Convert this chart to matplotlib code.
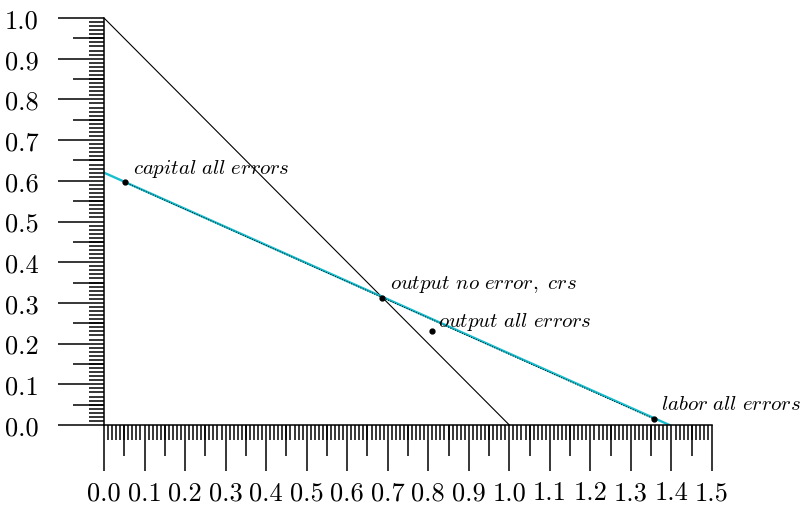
import numpy as np
import matplotlib
matplotlib.use("Agg")
import matplotlib.pyplot as plt
from matplotlib.ticker import MultipleLocator, FixedLocator

plt.rcParams['font.family'] = 'serif'
plt.rcParams['font.serif'] = ['cmr10']
plt.rcParams['mathtext.fontset'] = 'cm'
plt.rcParams['axes.formatter.use_mathtext'] = True

# data
frontier_x = [0.0, 1.0]
frontier_y = [1.0, 0.0]
isocost_x = [0.0, 1.395]
isocost_y = [0.62, 0.0]
point_names = ["capital all errors", "output no error, crs", "output all errors", "labor all errors"]
point_x = [0.052, 0.686, 0.808, 1.356]
point_y = [0.596, 0.313, 0.232, 0.015]
x_ticks = [round(0.1 * i, 1) for i in range(16)]
y_ticks = [round(0.1 * i, 1) for i in range(11)]

fig = plt.figure(figsize=(8.06, 5.06), dpi=100)
ax = fig.add_axes([104/806, (506-426)/506, (712-104)/806, (426-19)/506])

ax.plot(frontier_x, frontier_y, color='black', lw=0.8)
ax.plot(isocost_x, isocost_y, color='#17becf', lw=1.7)
# dotted line through capital and labor points
ax.plot([point_x[0], point_x[3]], [point_y[0], point_y[3]], color='black', lw=0.7, ls=(0, (1, 1.6)))
ax.plot(point_x, point_y, 'o', color='black', ms=3.5, zorder=5)

offsets = [(5.5, 10.5), (5.5, 10), (5, 7), (5, 10.5)]
for name, x, y, off in zip(point_names, point_x, point_y, offsets):
    label = r'$\mathit{' + name.replace(' ', r'\ ') + '}$'
    ax.annotate(label, (x, y), xytext=off, textcoords='offset points',
                ha='left', va='center', fontsize=15)

ax.set_xlim(0, 1.5)
ax.set_ylim(0, 1.0)
for s in ['top', 'right']:
    ax.spines[s].set_visible(False)
for s in ['left', 'bottom']:
    ax.spines[s].set_linewidth(1.1)

ax.xaxis.set_major_locator(FixedLocator(x_ticks))
ax.yaxis.set_major_locator(FixedLocator(y_ticks))
ax.set_xticklabels([f"{v:.1f}" for v in x_ticks])
ax.set_yticklabels([f"{v:.1f}" for v in y_ticks])
ax.xaxis.set_minor_locator(MultipleLocator(0.01))
ax.yaxis.set_minor_locator(MultipleLocator(0.01))
ax.tick_params(which='major', length=33, width=1.1, labelsize=19, pad=7)
ax.tick_params(which='minor', length=11, width=1.1)
ax.tick_params(axis='y', pad=14)

# medium ticks at 0.05
mid_x = [round(0.05 + 0.1 * i, 2) for i in range(15)]
mid_y = [round(0.05 + 0.1 * i, 2) for i in range(10)]
sx = ax.secondary_xaxis('bottom')
sx.set_xticks(mid_x)
sx.set_xticklabels([])
sx.tick_params(length=22, width=1.1)
sx.spines['bottom'].set_visible(False)
sy = ax.secondary_yaxis('left')
sy.set_yticks(mid_y)
sy.set_yticklabels([])
sy.tick_params(length=22, width=1.1)
sy.spines['left'].set_visible(False)

fig.savefig('out.png', dpi=100)
